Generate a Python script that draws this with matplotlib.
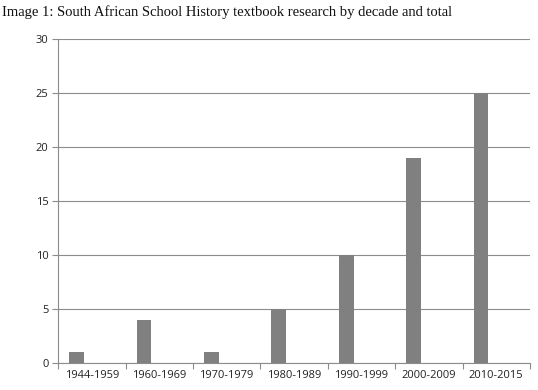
import numpy as np
import matplotlib
matplotlib.use("Agg")
import matplotlib.pyplot as plt
from matplotlib.ticker import FixedLocator, NullFormatter

# Data
decades = ["1944-1959", "1960-1969", "1970-1979", "1980-1989",
           "1990-1999", "2000-2009", "2010-2015"]
counts = [1, 4, 1, 5, 10, 19, 25]
y_ticks = [0, 5, 10, 15, 20, 25, 30]

title = "Image 1: South African School History textbook research by decade and total"

fig = plt.figure(figsize=(5.38, 3.9), dpi=100)
ax = fig.add_axes([0.108, 0.069, 0.877, 0.831])

x = np.arange(len(decades))
ax.bar(x - 0.225, counts, width=0.22, color="#808080", zorder=3)

ax.set_xlim(-0.5, len(decades) - 0.5)
ax.set_ylim(0, 30)
ax.set_yticks(y_ticks)
ax.yaxis.grid(True, color="#8c8c8c", linewidth=0.8, zorder=0)

ax.set_xticks(x)
ax.set_xticklabels(decades)
ax.xaxis.set_minor_locator(FixedLocator(np.arange(-0.5, len(decades), 1.0)))
ax.xaxis.set_minor_formatter(NullFormatter())
ax.tick_params(axis="x", which="major", length=0, pad=5)
ax.tick_params(axis="x", which="minor", length=4, color="#8c8c8c", width=0.8)
ax.tick_params(axis="y", length=4, color="#8c8c8c", width=0.8, pad=3)

for lbl in ax.get_xticklabels() + ax.get_yticklabels():
    lbl.set_fontfamily("Open Sans")
    lbl.set_fontsize(8)
    lbl.set_color("#222222")

for side in ["top", "right"]:
    ax.spines[side].set_visible(False)
ax.spines["left"].set_color("#8c8c8c")
ax.spines["bottom"].set_color("#8c8c8c")
ax.spines["left"].set_linewidth(0.8)
ax.spines["bottom"].set_linewidth(0.8)

fig.text(0.004, 0.968, title, fontsize=10.5, family="Liberation Serif",
         ha="left", va="center", color="#111111")

fig.savefig("out.png", dpi=100)
